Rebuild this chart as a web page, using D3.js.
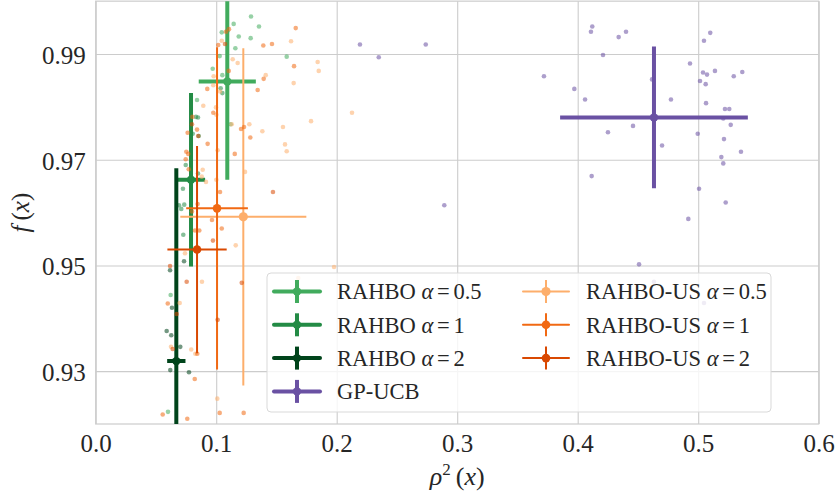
<!DOCTYPE html>
<html>
<head>
<meta charset="utf-8">
<script src="https://cdn.jsdelivr.net/npm/d3@7"></script>
<style>
  html, body { margin: 0; padding: 0; background: #ffffff; }
  svg { display: block; }
</style>
</head>
<body>
<svg id="chart" width="837" height="495"></svg>
<script>
// ---- tick values ----
const xTicks = [0.0, 0.1, 0.2, 0.3, 0.4, 0.5, 0.6];
const yTicks = [0.93, 0.95, 0.97, 0.99];

// ---- series names (legend order) ----
const seriesNames = ["RAHBO α=0.5", "RAHBO α=1", "RAHBO α=2", "GP-UCB",
                     "RAHBO-US α=0.5", "RAHBO-US α=1", "RAHBO-US α=2"];

// ---- summary: mean rho^2, mean f, and error half-widths ----
const meanRho = [0.1092, 0.0791, 0.0669, 0.4633, 0.1225, 0.1007, 0.0841];
const meanF   = [0.9848, 0.9662, 0.9319, 0.9780, 0.9592, 0.9608, 0.9530];
const errRho  = [0.0237, 0.0117, 0.0076, 0.0779, 0.0523, 0.0256, 0.0246];
const errF    = [0.0186, 0.0164, 0.0365, 0.0134, 0.0319, 0.0305, 0.0196];

// ---- individual runs: [rho^2, f] ----
const rahbo05Pts = [
  [0.1289,0.9971],[0.1145,0.9957],[0.1355,0.9952],[0.1046,0.9941],[0.1092,0.9943],
  [0.1187,0.9933],[0.1286,0.9930],[0.1159,0.9911],[0.1029,0.9896],[0.1585,0.9895],
  [0.0971,0.9872],[0.1051,0.9860],[0.1120,0.9767],[0.0841,0.9813],[0.0622,0.9444],
  [0.0600,0.9223]
];
const rahbo1Pts = [
  [0.1037,0.9835],[0.1051,0.9826],[0.0832,0.9781],[0.0849,0.9780],[0.0855,0.9745],
  [0.0805,0.9749],[0.0747,0.9690],[0.0849,0.9674],[0.0724,0.9645],[0.0691,0.9614],
  [0.0735,0.9615],[0.0710,0.9607],[0.0727,0.9558]
];
const rahbo2Pts = [
  [0.0733,0.9508],[0.0617,0.9491],[0.0633,0.9420],[0.0589,0.9376],[0.0627,0.9368],
  [0.0702,0.9346],[0.0619,0.9302],[0.0774,0.9298]
];
const gpucbPts = [
  [0.4121,0.9952],[0.4110,0.9942],[0.4340,0.9932],[0.4401,0.9942],[0.4210,0.9898],
  [0.3972,0.9834],[0.4061,0.9814],[0.4617,0.9852],[0.4774,0.9814],[0.4459,0.9764],
  [0.4251,0.9752],[0.4700,0.9727],[0.4116,0.9669],[0.4932,0.9882],[0.5048,0.9925],
  [0.5100,0.9940],[0.5040,0.9865],[0.5073,0.9861],[0.5139,0.9868],[0.5015,0.9849],
  [0.5062,0.9843],[0.5295,0.9858],[0.5366,0.9866],[0.5065,0.9807],[0.5222,0.9796],
  [0.5258,0.9796],[0.5208,0.9778],[0.5270,0.9766],[0.4996,0.9749],[0.5214,0.9739],
  [0.5355,0.9715],[0.5192,0.9705],[0.5208,0.9693],[0.5007,0.9645],[0.5228,0.9619],
  [0.4918,0.9588],[0.2193,0.9918],[0.2349,0.9894],[0.2739,0.9918],[0.3720,0.9858],
  [0.2893,0.9614],[0.4509,0.9502],[0.4633,0.9469],[0.5048,0.9429]
];
const us05Pts = [
  [0.1046,0.9925],[0.1621,0.9924],[0.1137,0.9890],[0.1178,0.9883],[0.1842,0.9885],
  [0.1851,0.9868],[0.1411,0.9860],[0.0979,0.9858],[0.0976,0.9841],[0.1032,0.9829],
  [0.1643,0.9845],[0.0893,0.9802],[0.0998,0.9799],[0.1001,0.9785],[0.1129,0.9767],
  [0.1275,0.9767],[0.1554,0.9762],[0.1383,0.9754],[0.1787,0.9773],[0.1571,0.9729],
  [0.1585,0.9716],[0.1239,0.9677],[0.0888,0.9681],[0.0880,0.9668],[0.0915,0.9658],
  [0.1012,0.9718],[0.1001,0.9662],[0.1162,0.9538],[0.0741,0.9523],[0.0882,0.9469],
  [0.0697,0.9429],[0.0625,0.9346],[0.0793,0.9341],[0.1009,0.9248],[0.1978,0.9497],
  [0.1681,0.9476],[0.2127,0.9789],[0.0827,0.9333]
];
const us1Pts = [
  [0.1660,0.9949],[0.1106,0.9947],[0.1081,0.9942],[0.1017,0.9917],[0.1391,0.9916],
  [0.1463,0.9919],[0.1646,0.9877],[0.1104,0.9868],[0.1394,0.9853],[0.0926,0.9834],
  [0.1344,0.9832],[0.0976,0.9789],[0.0802,0.9781],[0.1231,0.9762],[0.1206,0.9758],
  [0.0841,0.9757],[0.0763,0.9751],[0.1283,0.9742],[0.1154,0.9711],[0.0929,0.9730],
  [0.0752,0.9715],[0.0768,0.9711],[0.0747,0.9701],[0.0772,0.9682],[0.1032,0.9639],
  [0.0846,0.9616],[0.0799,0.9602],[0.0965,0.9586],[0.1046,0.9570],[0.0824,0.9566],
  [0.0860,0.9566],[0.0598,0.9428],[0.0822,0.9285],[0.0556,0.9218],[0.1029,0.9221],
  [0.1228,0.9221],[0.0760,0.9210],[0.0843,0.9333]
];
const us2Pts = [
  [0.1073,0.9919],[0.0851,0.9745],[0.1471,0.9639],[0.1212,0.9467],[0.0973,0.9547],
  [0.0617,0.9499],[0.0755,0.9469],[0.0672,0.9408],[0.1012,0.9397],[0.0639,0.9342],
  [0.0799,0.9767]
];

// ---- styling per series ----
const colors   = ["#41ab5d", "#238b45", "#00441b", "#6a51a3", "#fdae6b", "#f16913", "#d94801"];
const lineW    = [4, 4, 4, 4, 2, 2, 2];
const markerR  = [4.2, 4.2, 4.2, 4.2, 4.6, 4.3, 4.3];
const pointSets = [rahbo05Pts, rahbo1Pts, rahbo2Pts, gpucbPts, us05Pts, us1Pts, us2Pts];

// ---- layout ----
const plot = { left: 95.7, right: 818.7, top: 1.15, bottom: 424 };
const textColor = "#262626";
const gridColor = "#cccccc";
const serif = "'Liberation Serif', 'Times New Roman', serif";

const x = d3.scaleLinear().domain([0, 0.6]).range([plot.left, plot.right]);
const y = d3.scaleLinear().domain([0.92, 1.0]).range([plot.bottom, plot.top]);

const svg = d3.select("#chart");

svg.append("defs").append("clipPath").attr("id", "plotClip")
  .append("rect")
  .attr("x", plot.left).attr("y", plot.top)
  .attr("width", plot.right - plot.left).attr("height", plot.bottom - plot.top);

// grid + tick labels
const xAxis = d3.axisBottom(x).tickValues(xTicks).tickFormat(d3.format(".1f"))
  .tickSize(-(plot.bottom - plot.top)).tickPadding(10);
const yAxis = d3.axisLeft(y).tickValues(yTicks).tickFormat(d3.format(".2f"))
  .tickSize(-(plot.right - plot.left)).tickPadding(10);

const gx = svg.append("g").attr("transform", `translate(0,${plot.bottom})`).call(xAxis);
const gy = svg.append("g").attr("transform", `translate(${plot.left},0)`).call(yAxis);
[gx, gy].forEach(g => {
  g.select(".domain").remove();
  g.selectAll(".tick line").attr("stroke", gridColor).attr("stroke-width", 1.1);
  g.selectAll(".tick text").attr("fill", textColor)
    .style("font-family", serif).style("font-size", "25px");
});
gy.selectAll(".tick text").attr("dy", "0.38em");

// frame
svg.append("rect")
  .attr("x", plot.left).attr("y", plot.top)
  .attr("width", plot.right - plot.left).attr("height", plot.bottom - plot.top)
  .attr("fill", "none").attr("stroke", gridColor).attr("stroke-width", 1.2);

// data layer
const layer = svg.append("g").attr("clip-path", "url(#plotClip)");

function drawErrorbar(g, cx, cy, ex, ey, color, lw, r) {
  g.append("line")
    .attr("x1", x(cx - ex)).attr("x2", x(cx + ex))
    .attr("y1", y(cy)).attr("y2", y(cy))
    .attr("stroke", color).attr("stroke-width", lw);
  g.append("line")
    .attr("x1", x(cx)).attr("x2", x(cx))
    .attr("y1", y(cy - ey)).attr("y2", y(cy + ey))
    .attr("stroke", color).attr("stroke-width", lw);
  g.append("circle")
    .attr("cx", x(cx)).attr("cy", y(cy)).attr("r", r)
    .attr("fill", color);
}

seriesNames.forEach((name, i) => {
  const g = layer.append("g");
  g.selectAll("circle.pt").data(pointSets[i]).join("circle")
    .attr("class", "pt")
    .attr("cx", d => x(d[0])).attr("cy", d => y(d[1]))
    .attr("r", 2.3)
    .attr("fill", colors[i]).attr("fill-opacity", 0.55);
  drawErrorbar(g, meanRho[i], meanF[i], errRho[i], errF[i], colors[i], lineW[i], markerR[i]);
});

// axis labels
const xl = svg.append("text")
  .attr("x", (plot.left + plot.right) / 2).attr("y", 485)
  .attr("text-anchor", "middle").attr("fill", textColor)
  .style("font-family", serif).style("font-size", "26px");
xl.append("tspan").attr("font-style", "italic").text("ρ");
xl.append("tspan").attr("dy", "-10").style("font-size", "17px").text("2");
xl.append("tspan").attr("dy", "10").text("\u2009(");
xl.append("tspan").attr("font-style", "italic").text("x");
xl.append("tspan").text(")");

const yl = svg.append("text")
  .attr("transform", `translate(29,${(plot.top + plot.bottom) / 2}) rotate(-90)`)
  .attr("text-anchor", "middle").attr("fill", textColor)
  .style("font-family", serif).style("font-size", "25px");
yl.append("tspan").attr("font-style", "italic").text("f");
yl.append("tspan").text("\u2009(");
yl.append("tspan").attr("font-style", "italic").text("x");
yl.append("tspan").text(")");

// legend
const legend = svg.append("g");
legend.append("rect")
  .attr("x", 267).attr("y", 273).attr("width", 504).attr("height", 139)
  .attr("rx", 4).attr("ry", 4)
  .attr("fill", "#ffffff").attr("fill-opacity", 0.8)
  .attr("stroke", "#d9d9d9").attr("stroke-width", 1);

const colX = [274, 523];
const rowY = i => 291.5 + i * 33.3;

seriesNames.forEach((name, i) => {
  const col = i < 4 ? 0 : 1;
  const row = i < 4 ? i : i - 4;
  const hx = colX[col], hy = rowY(row);
  const g = legend.append("g");
  g.append("line").attr("x1", hx).attr("x2", hx + 46).attr("y1", hy).attr("y2", hy)
    .attr("stroke", colors[i]).attr("stroke-width", lineW[i]).attr("stroke-linecap", "round");
  g.append("line").attr("x1", hx + 23).attr("x2", hx + 23).attr("y1", hy - 11.5).attr("y2", hy + 11.5)
    .attr("stroke", colors[i]).attr("stroke-width", lineW[i]);
  g.append("circle").attr("cx", hx + 23).attr("cy", hy).attr("r", markerR[i]).attr("fill", colors[i]);

  const t = g.append("text")
    .attr("x", hx + 63).attr("y", hy).attr("dy", "0.35em")
    .attr("fill", textColor)
    .style("font-family", serif).style("font-size", "22.5px");
  const parts = name.split(" α=");
  if (parts.length === 2) {
    t.append("tspan").text(parts[0] + " ");
    t.append("tspan").attr("font-style", "italic").text("α");
    t.append("tspan").text("\u2006=\u2006" + parts[1]);
  } else {
    t.text(name);
  }
});
</script>
</body>
</html>
